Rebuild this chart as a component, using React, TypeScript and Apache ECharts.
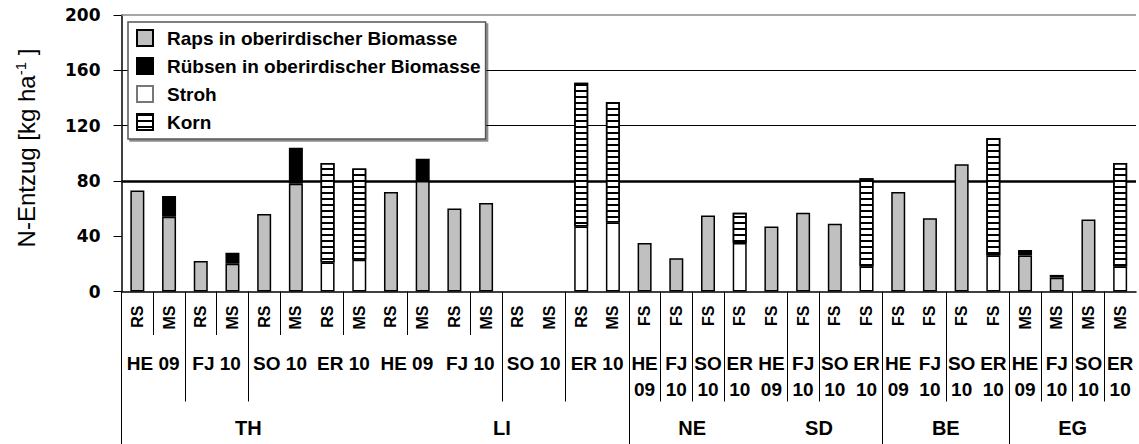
import React, { useEffect, useRef } from 'react';
import * as echarts from 'echarts';

// Row 1: sort labels per bar
const sorts = [
  'RS', 'MS', 'RS', 'MS', 'RS', 'MS', 'RS', 'MS',
  'RS', 'MS', 'RS', 'MS', 'RS', 'MS', 'RS', 'MS',
  'FS', 'FS', 'FS', 'FS', 'FS', 'FS', 'FS', 'FS',
  'FS', 'FS', 'FS', 'FS', 'MS', 'MS', 'MS', 'MS',
];

// Row 2: site / year labels with their category spans [from, to]
const siteNames = [
  'HE 09', 'FJ 10', 'SO 10', 'ER 10', 'HE 09', 'FJ 10', 'SO 10', 'ER 10',
  'HE\n09', 'FJ\n10', 'SO\n10', 'ER\n10', 'HE\n09', 'FJ\n10', 'SO\n10', 'ER\n10',
  'HE\n09', 'FJ\n10', 'SO\n10', 'ER\n10', 'HE\n09', 'FJ\n10', 'SO\n10', 'ER\n10',
];
const siteSpans = [
  [0, 1], [2, 3], [4, 5], [6, 7], [8, 9], [10, 11], [12, 13], [14, 15],
  [16, 16], [17, 17], [18, 18], [19, 19], [20, 20], [21, 21], [22, 22], [23, 23],
  [24, 24], [25, 25], [26, 26], [27, 27], [28, 28], [29, 29], [30, 30], [31, 31],
];

// Row 3: regions and their category spans
const regions = ['TH', 'LI', 'NE', 'SD', 'BE', 'EG'];
const regionSpans = [[0, 7], [8, 15], [16, 19], [20, 23], [24, 27], [28, 31]];

// Separator lines (category boundaries)
const shortSeps = [1, 3, 5, 7, 9, 11];
const longSeps = [2, 4, 12, 14, 17, 18, 19, 21, 22, 26, 29, 30, 31];
const fullSeps = [0, 16, 24, 28];

// Series values (kg N / ha)
const raps = [73, 54, 22, 20, 56, 78, null, null, 72, 80, 60, 64, null, null, null, null,
  35, 24, 55, null, 47, 57, 49, null, 72, 53, 92, null, 26, 10, 52, null];
const ruebsen = [null, 15, null, 8, null, 26, null, null, null, 16, null, null, null, null, null, null,
  null, null, null, null, null, null, null, null, null, null, null, null, 4, 2, null, null];
const stroh = [null, null, null, null, null, null, 21, 23, null, null, null, null, null, null, 47, 50,
  null, null, null, 35, null, null, null, 18, null, null, null, 26, null, null, null, 18];
const korn = [null, null, null, null, null, null, 72, 66, null, null, null, null, null, null, 104, 87,
  null, null, null, 22, null, null, null, 64, null, null, null, 85, null, null, null, 75];

const yMin = 0;
const yMax = 200;
const yStep = 40;
const gridLineValues = [120, 160];
const refLineValue = 80;

const FONT = 'Liberation Sans, Arial, sans-serif';

export default function App() {
  const ref = useRef<HTMLDivElement>(null);
  useEffect(() => {
    document.body.style.margin = '0';
    if (!ref.current) return;
    const chart = echarts.init(ref.current, undefined, { renderer: 'svg' });

    const nCat = sorts.length;
    const nQ = nCat * 4 + 1;
    const quarter = Array.from({ length: nQ }, (_, i) => String(i));

    const siteMap: Record<number, string> = {};
    siteSpans.forEach((s, i) => { siteMap[(s[0] + s[1] + 1) * 2] = siteNames[i]; });
    const regionMap: Record<number, string> = {};
    regionSpans.forEach((s, i) => { regionMap[(s[0] + s[1] + 1) * 2] = regions[i]; });

    const sepTick = (set: number[]) => (idx: number) => idx % 4 === 0 && set.indexOf(idx / 4) >= 0;

    const quarterAxis = (set: number[], len: number, labels: Record<number, string> | null, margin: number, fs: number) => ({
      type: 'category',
      data: quarter,
      boundaryGap: false,
      position: 'bottom',
      axisLine: { show: false },
      axisTick: { show: true, inside: false, length: len, interval: sepTick(set), lineStyle: { color: '#000', width: 1 } },
      axisLabel: labels ? {
        show: true,
        interval: 0,
        margin,
        formatter: (_v: string, i: number) => labels[i] || '',
        fontFamily: FONT,
        fontWeight: 'bold',
        fontSize: fs,
        lineHeight: 26,
        color: '#000',
      } : { show: false },
      splitLine: { show: false },
    });

    const border = { borderColor: '#000', borderWidth: 1.5 };
    const base = { type: 'bar', stack: 'n', barWidth: 14, xAxisIndex: 0, yAxisIndex: 0 };

    chart.setOption({
      animation: false,
      grid: { left: 121.5, top: 15, width: 1022, height: 276.5 },
      legend: {
        orient: 'vertical',
        left: 128,
        top: 22,
        padding: [6, 5, 7, 8],
        itemGap: 8,
        itemWidth: 16,
        itemHeight: 16,
        backgroundColor: '#fff',
        borderColor: '#555',
        borderWidth: 1.5,
        shadowColor: 'rgba(0,0,0,0.45)',
        shadowOffsetX: 2,
        shadowOffsetY: 2,
        shadowBlur: 0,
        textStyle: { fontFamily: FONT, fontWeight: 'bold', fontSize: 19, lineHeight: 20, color: '#000', padding: [0, 0, 0, 9] },
        data: [
          { name: 'Raps in oberirdischer Biomasse', icon: 'rect' },
          { name: 'Rübsen in oberirdischer Biomasse', icon: 'rect' },
          { name: 'Stroh', icon: 'rect', itemStyle: { borderColor: '#777' } },
          { name: 'Korn', icon: 'rect' },
        ],
      },
      xAxis: [
        {
          type: 'category',
          data: sorts,
          position: 'bottom',
          axisLine: { show: true, lineStyle: { color: '#000', width: 1.5 } },
          axisTick: { show: false },
          axisLabel: { interval: 0, rotate: 90, margin: 14, fontFamily: FONT, fontWeight: 'bold', fontSize: 16, color: '#000' },
          splitLine: { show: false },
        },
        quarterAxis(shortSeps, 43.5, null, 0, 19),
        quarterAxis(longSeps, 110, siteMap, 59, 19),
        quarterAxis(fullSeps, 153, regionMap, 123.5, 20),
      ],
      yAxis: {
        type: 'value',
        min: yMin,
        max: yMax,
        interval: yStep,
        axisLine: { show: true, lineStyle: { color: '#000', width: 1.5 } },
        axisTick: { show: true, length: 8, lineStyle: { color: '#000', width: 1 } },
        axisLabel: { margin: 21, fontFamily: 'DejaVu Sans, sans-serif', fontWeight: 'bold', fontSize: 17, color: '#000' },
        splitLine: { show: false },
      },
      graphic: [
        {
          type: 'text',
          x: 26,
          y: 148,
          rotation: Math.PI / 2,
          style: {
            text: '{a|N-Entzug [kg ha}{s|-1}{a| ]}',
            textAlign: 'center',
            textVerticalAlign: 'middle',
            rich: {
              a: { fontSize: 24, fontFamily: FONT, fill: '#000', lineHeight: 26 },
              s: { fontSize: 15, fontFamily: FONT, fill: '#000', verticalAlign: 'top', lineHeight: 15 },
            },
          },
        },
      ],
      series: [
        {
          ...base,
          name: 'Raps in oberirdischer Biomasse',
          data: raps,
          itemStyle: { color: '#c0c0c0', ...border },
          markLine: {
            silent: true,
            symbol: 'none',
            z: 1,
            label: { show: false },
            lineStyle: { type: 'solid', color: '#000', width: 1 },
            data: [
              ...gridLineValues.map((v) => ({ yAxis: v })),
              { yAxis: yMax, lineStyle: { color: '#888', width: 1.5, type: 'solid' } },
              { yAxis: refLineValue, lineStyle: { color: '#000', width: 2.5, type: 'solid' } },
            ],
          },
        },
        { ...base, name: 'Rübsen in oberirdischer Biomasse', data: ruebsen, itemStyle: { color: '#000', ...border } },
        { ...base, name: 'Stroh', data: stroh, itemStyle: { color: '#fff', ...border } },
        {
          ...base,
          name: 'Korn',
          data: korn,
          itemStyle: {
            color: '#fff',
            ...border,
            decal: { symbol: 'rect', symbolSize: 1, dashArrayX: [1, 0], dashArrayY: [1.5, 4], rotation: 0, color: '#000' },
          },
        },
      ],
    });
    return () => chart.dispose();
  }, []);
  return <div ref={ref} style={{ width: 1139, height: 444 }} />;
}
